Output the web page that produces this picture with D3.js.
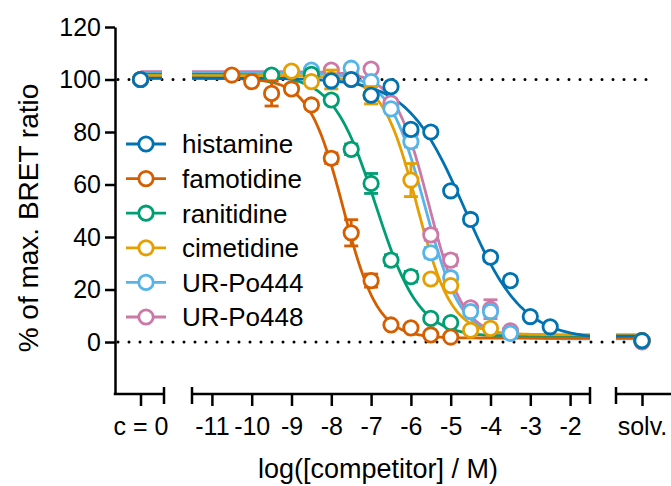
<!DOCTYPE html>
<html>
<head>
<meta charset="utf-8">
<script src="https://cdn.jsdelivr.net/npm/d3@7"></script>
<style>
  html, body { margin: 0; padding: 0; background: #fff; }
  svg { display: block; font-family: "Liberation Sans", Arial, sans-serif; }
</style>
</head>
<body>
<svg id="chart" width="671" height="486"></svg>
<script>
// ---------------- data ----------------
const seriesNames = ["histamine", "famotidine", "ranitidine", "cimetidine", "UR-Po444", "UR-Po448"];
const seriesColors = ["#0072B2", "#D55E00", "#009E73", "#E69F00", "#56B4E9", "#CC79A7"];

const histamineX = [-8, -7.5, -7, -6.5, -6, -5.5, -5, -4.5, -4, -3.5, -3, -2.5];
const histamineY = [99.5, 100, 94, 97.3, 81, 80, 57.6, 46.7, 32.3, 23.4, 9.7, 5.8];
const histamineE = [1, 1, 1, 1, 1.5, 1.5, 1.5, 1.5, 1.5, 1.5, 1, 1];

const famotidineX = [-10.5, -10, -9.5, -9, -8.5, -8, -7.5, -7, -6.5, -6, -5.5, -5];
const famotidineY = [101.7, 99.2, 94.7, 96.4, 90.3, 70, 41.6, 23.4, 6.5, 5.4, 2.7, 1.9];
const famotidineE = [1, 1, 4.8, 1.5, 1.5, 2, 5, 2.5, 1, 1, 1, 1];

const ranitidineX = [-9.5, -8.5, -8, -7.5, -7, -6.5, -6, -5.5, -5];
const ranitidineY = [101.7, 102, 92.2, 73.4, 60.4, 31.2, 24.9, 9, 7.4];
const ranitidineE = [1, 1, 1.5, 2, 3.8, 2, 2, 1, 1];

const cimetidineX = [-9, -8.5, -8, -7.5, -7, -6, -5.5, -5, -4.5, -4];
const cimetidineY = [103.2, 99.2, 100, 100, 94, 61.7, 24, 21.5, 4.5, 5.2];
const cimetidineE = [1, 1, 3.6, 1, 3.3, 6.3, 1.5, 1.5, 1, 1];

const po444X = [-8.5, -8, -7.5, -7, -6.5, -6, -5.5, -5, -4.5, -4, -3.5];
const po444Y = [103.6, 100, 104.3, 99.2, 88.8, 76.3, 34, 24.5, 11.6, 11.6, 3.3];
const po444E = [1, 1, 1, 1, 1.5, 2, 2, 1.5, 1.5, 1.5, 1];

const po448X = [-8, -7.5, -7, -6.5, -6, -5.5, -5, -4.5, -4, -3.5];
const po448Y = [103.6, 101, 104, 91, 80, 40.8, 31.2, 13, 12.5, 4.3];
const po448E = [1, 1, 1, 1.5, 2, 2, 2, 1.5, 3.6, 1];

// competition fit parameters
const fitTop     = [100.5, 100.5, 102, 101.5, 102.5, 103];
const fitBottom  = [1, 1.5, 2, 2.8, 1.2, 1.8];
const fitLogIC50 = [-4.65, -7.7, -6.88, -5.85, -5.65, -5.55];
const fitHill    = [0.6, 1.0, 0.8, 1.0, 0.95, 1.0];

// control points: no competitor (c = 0) and solvent
const zeroY = [100, 100, 100, 100, 100, 100];
const solvY = [0.5, 0.5, 0.5, 0.5, 0.5, 0];

const xTicks = [-11, -10, -9, -8, -7, -6, -5, -4, -3, -2];
const yTicks = [0, 20, 40, 60, 80, 100, 120];
const zeroLabel = "c = 0";
const solvLabel = "solv.";
const refLines = [0, 100];
const xTitle = "log([competitor] / M)";
const yTitle = "% of max. BRET ratio";

const seriesData = [
  [histamineX, histamineY, histamineE],
  [famotidineX, famotidineY, famotidineE],
  [ranitidineX, ranitidineY, ranitidineE],
  [cimetidineX, cimetidineY, cimetidineE],
  [po444X, po444Y, po444E],
  [po448X, po448Y, po448E]
];

// ---------------- chart ----------------
const svg = d3.select("#chart");
const axisY0 = 394;      // pixel row of the x axis
const yAxisX = 115;      // pixel column of the y axis
const FONT = "Liberation Sans, Arial, sans-serif";

const x = d3.scaleLinear().domain([-11.5, -1.5]).range([192, 590]);
const xZero = d3.scalePoint().domain([zeroLabel]).range([117, 164]);
const xSolv = d3.scalePoint().domain([solvLabel]).range([616, 668]);
const y = d3.scaleLinear().domain([-19.8, 120]).range([axisY0, 27]);

const fit = (i, lx) => fitBottom[i] + (fitTop[i] - fitBottom[i]) / (1 + Math.pow(10, (lx - fitLogIC50[i]) * fitHill[i]));

const AX = 2.5, R = 7.2, SW = 2.8;

// dotted reference lines
svg.append("g").selectAll("line").data(refLines).join("line")
  .attr("x1", yAxisX + 3).attr("x2", 656)
  .attr("y1", d => y(d)).attr("y2", d => y(d))
  .attr("stroke", "#000").attr("stroke-width", 3)
  .attr("stroke-linecap", "round").attr("stroke-dasharray", "0,11");

// y axis
const gy = svg.append("g").attr("transform", `translate(${yAxisX},0)`)
  .call(d3.axisLeft(y).tickValues(yTicks).tickSize(10).tickSizeOuter(0).tickPadding(4).tickFormat(d => String(d)));
gy.selectAll("path, line").attr("stroke", "#000").attr("stroke-width", AX);
gy.selectAll("text").attr("font-size", 25).attr("fill", "#000").attr("font-family", FONT);

// x axes (three segments)
function xSegment(scale, ticks, x0, x1, capLeft, capRight) {
  const g = svg.append("g").attr("transform", `translate(0,${axisY0})`)
    .call(d3.axisBottom(scale).tickValues(ticks).tickSize(12).tickSizeOuter(0).tickPadding(11).tickFormat(d => String(d)));
  g.select(".domain").remove();
  g.selectAll("line").attr("stroke", "#000").attr("stroke-width", AX);
  g.selectAll("text").attr("font-size", 25).attr("fill", "#000").attr("font-family", FONT);
  g.append("line").attr("x1", x0).attr("x2", x1).attr("y1", 0).attr("y2", 0)
    .attr("stroke", "#000").attr("stroke-width", AX);
  [[capLeft, x0], [capRight, x1]].forEach(([c, px]) => {
    if (c) g.append("line").attr("x1", px).attr("x2", px).attr("y1", -7).attr("y2", 10)
      .attr("stroke", "#000").attr("stroke-width", AX);
  });
}
xSegment(xZero, [zeroLabel], yAxisX - AX / 2, 164, false, true);
xSegment(x, xTicks, x.range()[0], x.range()[1], true, true);
xSegment(xSolv, [solvLabel], 616, 672, true, false);

// axis titles
svg.append("text").attr("x", 378).attr("y", 478).attr("text-anchor", "middle")
  .attr("font-size", 27).attr("fill", "#000").text(xTitle);
svg.append("text").attr("transform", "translate(38,218) rotate(-90)").attr("text-anchor", "middle")
  .attr("font-size", 28).attr("fill", "#000").text(yTitle);

// curves
const drawOrder = [5, 4, 2, 3, 1, 0];
const line = d3.line().x(d => x(d[0])).y(d => y(d[1]));
const gCurves = svg.append("g");
drawOrder.forEach(i => {
  const pts = d3.range(-11.5, -1.5 + 1e-9, 0.05).map(lx => [lx, fit(i, lx)]);
  gCurves.append("path").datum(pts).attr("d", line)
    .attr("fill", "none").attr("stroke", seriesColors[i]).attr("stroke-width", SW);
  // stubs in the c = 0 and solvent segments
  gCurves.append("line").attr("x1", xZero(zeroLabel)).attr("x2", 162)
    .attr("y1", y(fit(i, -11.5))).attr("y2", y(fit(i, -11.5)))
    .attr("stroke", seriesColors[i]).attr("stroke-width", SW);
  gCurves.append("line").attr("x1", 616).attr("x2", xSolv(solvLabel))
    .attr("y1", y(fit(i, -1.5))).attr("y2", y(fit(i, -1.5)))
    .attr("stroke", seriesColors[i]).attr("stroke-width", SW);
});

// error bars + points
const gPts = svg.append("g");
drawOrder.forEach(i => {
  const [xs, ys, es] = seriesData[i];
  const c = seriesColors[i];
  const g = gPts.append("g");
  xs.forEach((lx, k) => {
    const cx = x(lx), lo = y(ys[k] - es[k]), hi = y(ys[k] + es[k]);
    g.append("line").attr("x1", cx).attr("x2", cx).attr("y1", lo).attr("y2", hi).attr("stroke", c).attr("stroke-width", SW);
    [lo, hi].forEach(py => g.append("line").attr("x1", cx - 7).attr("x2", cx + 7).attr("y1", py).attr("y2", py)
      .attr("stroke", c).attr("stroke-width", SW));
  });
  g.selectAll("circle.pt").data(xs.map((lx, k) => [lx, ys[k]])).join("circle")
    .attr("class", "pt").attr("cx", d => x(d[0])).attr("cy", d => y(d[1])).attr("r", R)
    .attr("fill", "#fff").attr("stroke", c).attr("stroke-width", SW);
  g.append("circle").attr("cx", xZero(zeroLabel)).attr("cy", y(zeroY[i])).attr("r", R)
    .attr("fill", "#fff").attr("stroke", c).attr("stroke-width", SW);
  g.append("circle").attr("cx", xSolv(solvLabel)).attr("cy", y(solvY[i])).attr("r", R)
    .attr("fill", "#fff").attr("stroke", c).attr("stroke-width", SW);
});

// legend
const legend = svg.append("g");
seriesNames.forEach((name, i) => {
  const ly = 144 + i * 34.6;
  legend.append("line").attr("x1", 126).attr("x2", 166).attr("y1", ly).attr("y2", ly)
    .attr("stroke", seriesColors[i]).attr("stroke-width", SW);
  legend.append("circle").attr("cx", 146).attr("cy", ly).attr("r", R)
    .attr("fill", "#fff").attr("stroke", seriesColors[i]).attr("stroke-width", SW);
  legend.append("text").attr("x", 182).attr("y", ly + 9.3).attr("font-size", 26).attr("fill", "#000").text(name);
});
</script>
</body>
</html>
